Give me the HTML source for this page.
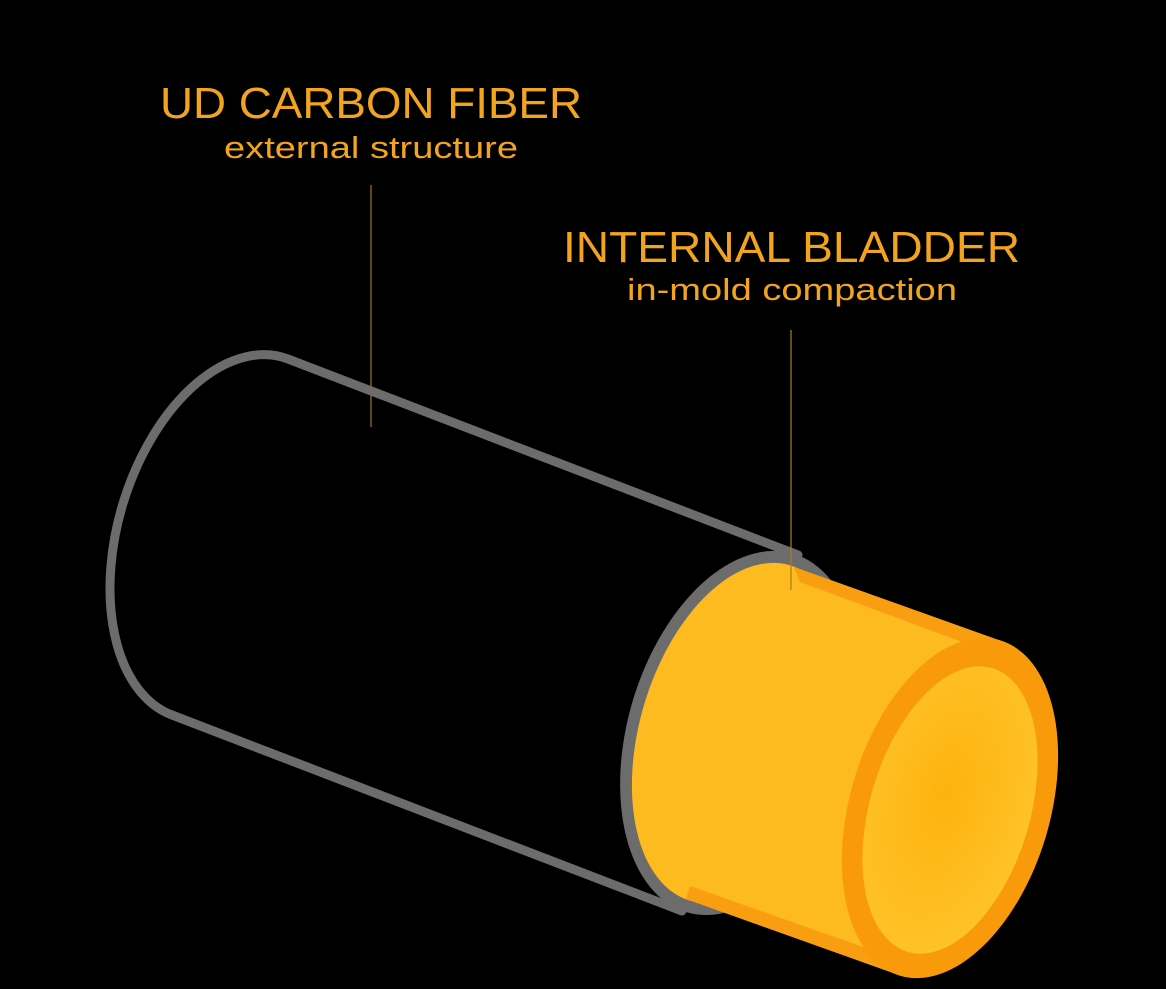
<!DOCTYPE html>
<html><head><meta charset="utf-8"><style>
html,body{margin:0;padding:0;background:#000;}
svg{display:block;}
text{font-family:"Liberation Sans",sans-serif;fill:#f2a41f;}
</style></head><body>
<svg width="1166" height="989" viewBox="0 0 1166 989" xmlns="http://www.w3.org/2000/svg">
<defs>
<radialGradient id="ig" cx="0.45" cy="0.45" r="0.6">
<stop offset="0" stop-color="#fdb20e"/>
<stop offset="1" stop-color="#fec42a"/>
</radialGradient>
</defs>
<rect width="1166" height="989" fill="#000"/>
<text x="160" y="118" font-size="44" textLength="422" lengthAdjust="spacingAndGlyphs">UD CARBON FIBER</text>
<text x="224" y="158" font-size="31" textLength="294" lengthAdjust="spacingAndGlyphs">external structure</text>
<text x="563" y="262" font-size="44" textLength="457" lengthAdjust="spacingAndGlyphs">INTERNAL BLADDER</text>
<text x="627" y="300" font-size="31" textLength="330" lengthAdjust="spacingAndGlyphs">in-mold compaction</text>
<line x1="371" y1="185" x2="371" y2="427" stroke="#a8741e" stroke-width="1.2"/>
<!-- gray tube -->
<path d="M798,555 L288,359 A112 187 16.6 0 0 172,715 L682,911" fill="none" stroke="#6c6c6c" stroke-width="9" stroke-linejoin="round" stroke-linecap="round"/>
<ellipse cx="740" cy="733" rx="112" ry="187" transform="rotate(16.6 740 733)" fill="#6c6c6c"/>
<!-- orange bladder -->
<ellipse cx="740" cy="733" rx="100" ry="175" transform="rotate(16.6 740 733)" fill="#fdbb1f"/>
<polygon points="794,567 1004,642 896,974 686,899" fill="#fdbb1f"/>
<polygon points="794,567 1004,642 1000,656 800,582" fill="#f99e10"/>
<polygon points="686,899 896,974 900,960 690,886" fill="#f99e10"/>
<ellipse cx="950" cy="808" rx="100" ry="175" transform="rotate(16.6 950 808)" fill="#f99a0a"/>
<ellipse cx="950" cy="810" rx="80" ry="148" transform="rotate(16.6 950 810)" fill="url(#ig)"/>
<line x1="791" y1="330" x2="791" y2="590" stroke="#b07a20" stroke-width="1.2"/>
</svg>
</body></html>
